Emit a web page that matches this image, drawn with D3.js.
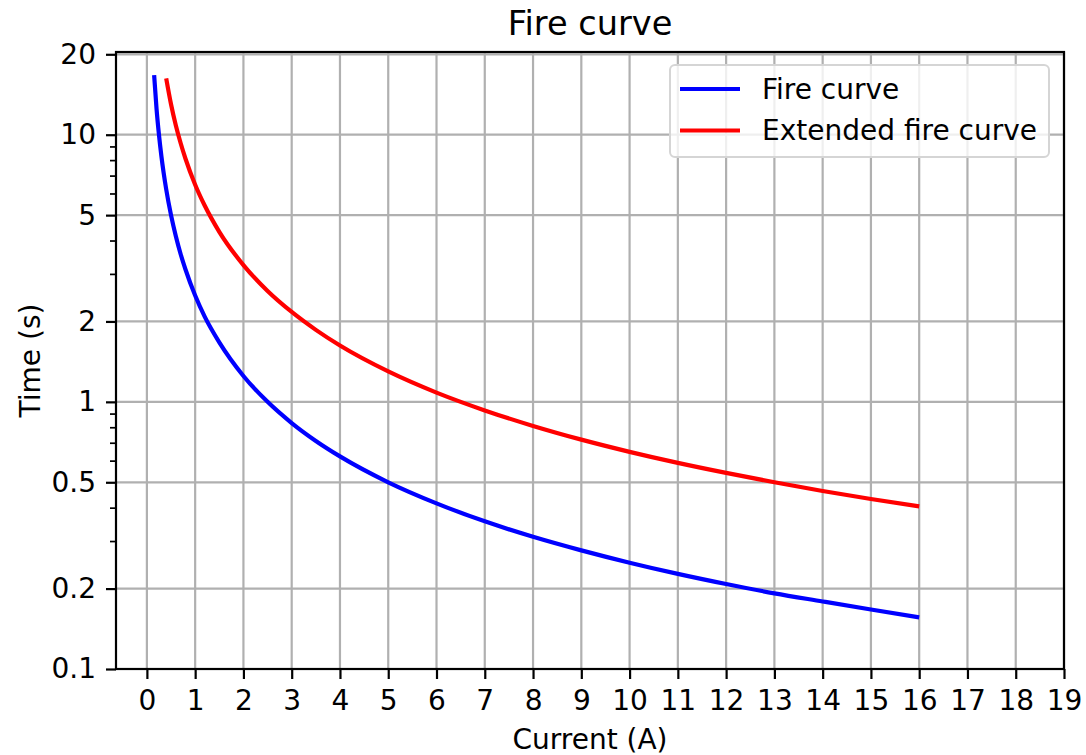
<!DOCTYPE html>
<html>
<head>
<meta charset="utf-8">
<script src="https://cdn.jsdelivr.net/npm/d3@7"></script>
<style>
  body { margin: 0; background: #fff; }
  svg { font-family: 'DejaVu Sans', sans-serif; }
</style>
</head>
<body>
<div id="chart"></div>
<script>
// values
let fireCurrent = [0.15, 0.2, 0.25, 0.3, 0.4, 0.5, 0.6, 0.7, 0.8, 1, 1.2, 1.5, 2, 2.5, 3, 3.5, 4, 5, 6, 7, 8, 9, 10, 11, 12, 13, 14, 15, 16]
let fireTime = [16.7, 12.5, 10, 8.33, 6.25, 5, 4.17, 3.57, 3.13, 2.5, 2.08, 1.67, 1.25, 1.0, 0.833, 0.714, 0.625, 0.5, 0.417, 0.357, 0.3125, 0.278, 0.25, 0.227, 0.208, 0.192, 0.179, 0.167, 0.156]

let extCurrent = [0.4, 0.5, 0.6, 0.7, 0.8, 1, 1.2, 1.5, 2, 2.5, 3, 3.5, 4, 5, 6, 7, 8, 9, 10, 11, 12, 13, 14, 15, 16]
let extTime = [16.25, 13, 10.83, 9.29, 8.13, 6.5, 5.42, 4.33, 3.25, 2.6, 2.17, 1.86, 1.625, 1.3, 1.083, 0.929, 0.8125, 0.722, 0.65, 0.591, 0.542, 0.5, 0.464, 0.433, 0.406]

let xTicks = d3.range(0, 20)
let yTicks = [0.1, 0.2, 0.5, 1, 2, 5, 10, 20]
let yMinorTicks = [0.3, 0.4, 0.6, 0.7, 0.8, 0.9, 3, 4, 6, 7, 8, 9]

let series = [
  { name: 'Fire curve', color: '#0000ff', x: fireCurrent, y: fireTime },
  { name: 'Extended fire curve', color: '#ff0000', x: extCurrent, y: extTime }
]

let fontSize = 28

let margin = { top: 52, right: 22, bottom: 86, left: 116 }
let width = 1086 - margin.left - margin.right
let height = 755 - margin.top - margin.bottom

let svg = d3.select('#chart')
  .append('svg')
  .attr('width', 1086)
  .attr('height', 755)

let g = svg.append('g')
  .attr('transform', 'translate(' + margin.left + ',' + margin.top + ')')

let xScale = d3.scaleLinear().domain([-0.64, 19]).range([0, width])
let yScale = d3.scaleLog().domain([0.1, 20.4]).range([height, 0])

// grid
g.append('g')
  .selectAll('line')
  .data(xTicks)
  .join('line')
  .attr('x1', d => xScale(d))
  .attr('x2', d => xScale(d))
  .attr('y1', 0)
  .attr('y2', height)
  .attr('stroke', '#b0b0b0')
  .attr('stroke-width', 2.2)

g.append('g')
  .selectAll('line')
  .data(yTicks)
  .join('line')
  .attr('x1', 0)
  .attr('x2', width)
  .attr('y1', d => yScale(d))
  .attr('y2', d => yScale(d))
  .attr('stroke', '#b0b0b0')
  .attr('stroke-width', 2.2)

// lines
let line = d3.line()
  .x(d => xScale(d[0]))
  .y(d => yScale(d[1]))
  .curve(d3.curveMonotoneX)

series.forEach(s => {
  g.append('path')
    .datum(s.x.map((v, i) => [v, s.y[i]]))
    .attr('fill', 'none')
    .attr('stroke', s.color)
    .attr('stroke-width', 4.2)
    .attr('d', line)
})

// axes
let xAxis = d3.axisBottom(xScale)
  .tickValues(xTicks)
  .tickSize(10)
  .tickPadding(11)
  .tickFormat(d3.format('d'))

let xg = g.append('g')
  .attr('transform', 'translate(0,' + height + ')')
  .call(xAxis)

let yAxis = d3.axisLeft(yScale)
  .tickValues(yTicks)
  .tickSize(10)
  .tickPadding(10)
  .tickFormat(d => String(d))

let yg = g.append('g').call(yAxis)

g.append('g')
  .selectAll('line')
  .data(yMinorTicks)
  .join('line')
  .attr('x1', -6)
  .attr('x2', 0)
  .attr('y1', d => yScale(d))
  .attr('y2', d => yScale(d))
  .attr('stroke', '#000')
  .attr('stroke-width', 1.7)

;[xg, yg].forEach(a => {
  a.attr('font-size', fontSize).attr('font-family', 'DejaVu Sans')
  a.select('.domain').remove()
  a.selectAll('line').attr('stroke', '#000').attr('stroke-width', 2.2)
  a.selectAll('text').attr('fill', '#000')
})

// frame
g.append('rect')
  .attr('width', width)
  .attr('height', height)
  .attr('fill', 'none')
  .attr('stroke', '#000')
  .attr('stroke-width', 2.2)

// legend
let legend = g.append('g').attr('transform', 'translate(' + (670 - margin.left) + ',' + (65 - margin.top) + ')')
legend.append('rect')
  .attr('width', 379)
  .attr('height', 92)
  .attr('rx', 5)
  .attr('fill', 'rgba(255,255,255,0.8)')
  .attr('stroke', '#d5d5d5')
  .attr('stroke-width', 2)

series.forEach((s, i) => {
  let y = 24 + i * 41.5
  legend.append('line')
    .attr('x1', 10)
    .attr('x2', 70)
    .attr('y1', y)
    .attr('y2', y)
    .attr('stroke', s.color)
    .attr('stroke-width', 4.2)
  legend.append('text')
    .attr('x', 92)
    .attr('y', y)
    .attr('dy', '0.35em')
    .attr('font-size', fontSize)
    .text(s.name)
})

// labels
svg.append('text')
  .attr('x', margin.left + width / 2)
  .attr('y', 35)
  .attr('text-anchor', 'middle')
  .attr('font-size', 33.6)
  .text('Fire curve')

svg.append('text')
  .attr('x', margin.left + width / 2)
  .attr('y', 749)
  .attr('text-anchor', 'middle')
  .attr('font-size', fontSize)
  .text('Current (A)')

svg.append('text')
  .attr('transform', 'translate(40,' + (margin.top + height / 2) + ') rotate(-90)')
  .attr('text-anchor', 'middle')
  .attr('font-size', fontSize)
  .text('Time (s)')
</script>
</body>
</html>
